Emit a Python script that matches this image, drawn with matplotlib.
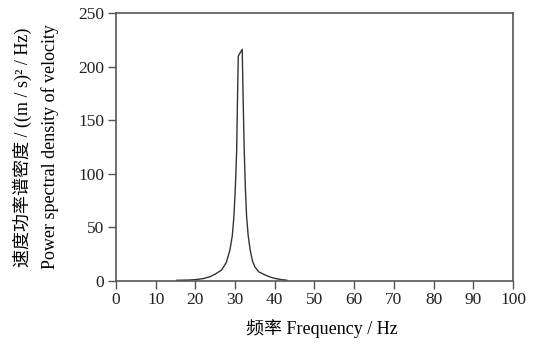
import matplotlib.pyplot as plt

plt.rcParams['font.family'] = ['Liberation Serif', 'Noto Sans CJK SC']

# spectrum
freq = [15.3, 18.0, 20.0, 22.0, 23.7, 25.0, 26.6, 27.8, 28.7, 29.3, 29.7, 30.1,
        30.4, 30.6, 30.8, 31.8, 32.0, 32.3, 32.6, 32.9, 33.3, 33.8, 34.4, 35.0,
        36.0, 37.6, 39.0, 40.0, 41.5, 43.0]
psd = [0.2, 0.4, 0.8, 1.8, 3.6, 6.0, 9.8, 17.0, 28.5, 42.0, 59.7, 90.0,
       122.0, 169.0, 210.0, 216.3, 175.0, 122.0, 85.0, 59.7, 42.0, 28.5, 18.0, 12.6,
       8.0, 5.1, 3.0, 2.0, 0.9, 0.3]

x_ticks = list(range(0, 101, 10))
y_ticks = [0, 50, 100, 150, 200, 250]

fig = plt.figure(figsize=(5.38, 3.46), dpi=100)
ax = fig.add_axes([0.2156, 0.1893, 0.9535 - 0.2156, 0.9616 - 0.1893])

ax.plot(freq, psd, color='#333333', lw=1.0)

ax.set_xlim(0, 100)
ax.set_ylim(0, 250)
ax.set_xticks(x_ticks)
ax.set_yticks(y_ticks)
ax.tick_params(direction='out', length=5.5, width=1.0, color='#555555',
               labelsize=12.5, labelcolor='#222222', pad=3)
for s in ax.spines.values():
    s.set_color('#555555')
    s.set_linewidth(1.2)

fig.text(0.598, 0.049, '频率 Frequency / Hz', ha='center', va='center',
         fontsize=13)
fig.text(0.041, 0.575, '速度功率谱密度 / ((m / s)² / Hz)', rotation=90,
         ha='center', va='center', fontsize=13)
fig.text(0.093, 0.575, 'Power spectral density of velocity', rotation=90,
         ha='center', va='center', fontsize=13)

plt.savefig('out.png', dpi=100)
